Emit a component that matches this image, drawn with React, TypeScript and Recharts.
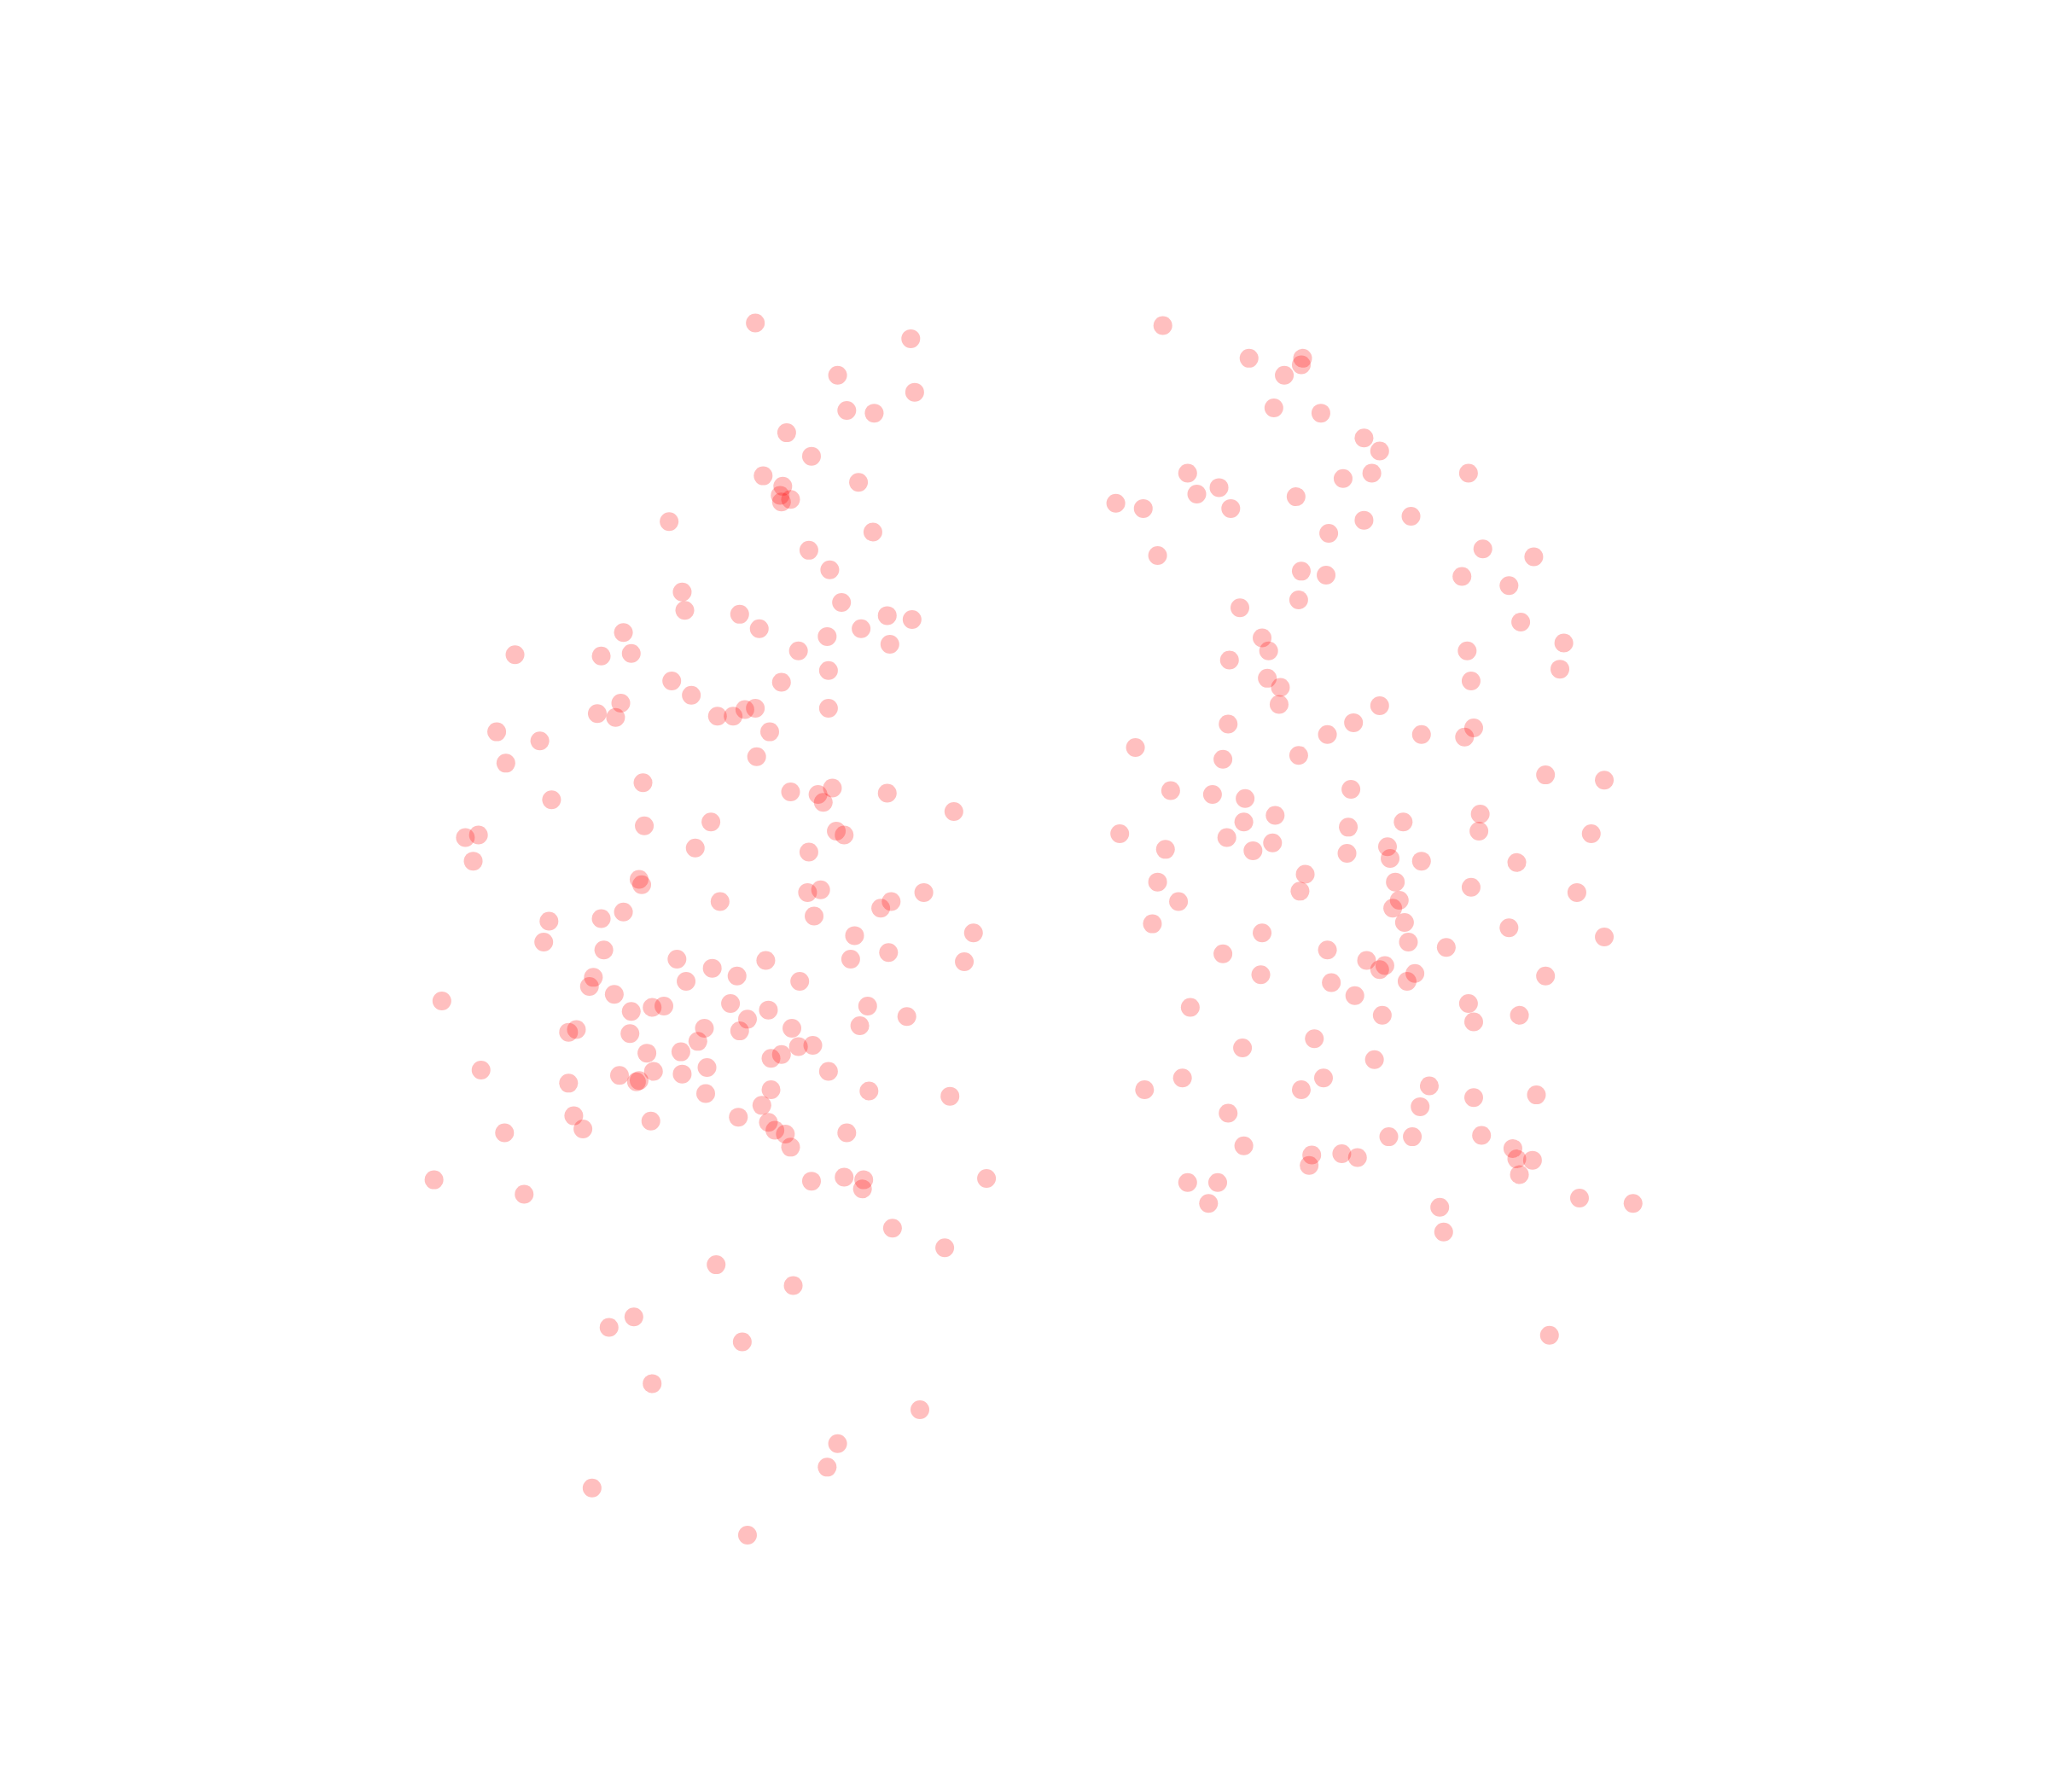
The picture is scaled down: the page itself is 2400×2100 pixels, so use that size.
import React from 'react';
import { ScatterChart, Scatter, XAxis, YAxis } from 'recharts';

// Group A (left cluster): [x, y] in plot units
const groupA: [number, number][] = [
  [577, 246], [696, 258], [640, 286], [699, 299], [647, 313], [668, 315], [601, 330], [620, 348],
  [583, 363], [656, 368], [598, 371], [596, 378], [597, 383], [604, 381], [511, 398], [667, 406],
  [618, 420], [634, 435], [521, 452], [643, 460], [523, 466], [565, 469], [678, 470], [697, 473],
  [580, 480], [658, 480], [476, 483], [632, 486], [680, 492], [393, 500], [459, 501], [482, 499],
  [610, 497], [633, 512], [513, 520], [597, 521], [528, 531], [474, 537], [456, 545], [470, 548],
  [548, 547], [560, 547], [569, 542], [577, 541], [633, 541], [379, 559], [588, 559], [412, 566],
  [386, 583], [578, 578], [491, 598], [604, 605], [625, 607], [636, 602], [629, 613], [678, 606],
  [421, 611], [729, 620], [543, 628], [492, 631], [355, 640], [365, 638], [639, 635], [645, 638],
  [531, 648], [618, 651], [361, 658], [488, 672], [490, 676], [617, 682], [627, 680], [706, 682],
  [550, 689], [681, 689], [673, 694], [476, 697], [459, 702], [419, 704], [622, 700], [653, 715],
  [744, 713], [415, 720], [461, 726], [679, 728], [517, 733], [585, 734], [650, 733], [737, 735],
  [544, 740], [453, 747], [450, 754], [524, 750], [563, 746], [611, 750], [469, 760], [337, 765],
  [558, 767], [482, 773], [498, 770], [507, 769], [587, 772], [663, 769], [693, 777], [571, 779],
  [434, 789], [440, 787], [481, 790], [538, 786], [565, 788], [605, 786], [657, 784], [533, 796],
  [610, 800], [621, 799], [494, 805], [520, 804], [589, 809], [597, 806], [367, 818], [473, 822],
  [499, 819], [521, 821], [540, 816], [633, 819], [486, 827], [488, 826], [434, 828], [539, 836],
  [589, 833], [664, 834], [726, 838], [582, 845], [438, 853], [564, 854], [497, 857], [445, 863],
  [587, 858], [592, 864], [600, 867], [385, 866], [647, 866], [604, 877], [331, 902], [620, 903],
  [645, 900], [660, 902], [659, 909], [754, 901], [400, 913], [682, 939], [722, 954], [547, 967],
  [606, 983], [484, 1007], [465, 1015], [567, 1026], [498, 1058], [703, 1078], [640, 1104], [632, 1122],
  [452, 1138], [571, 1174],
];

// Group B (right cluster)
const groupB: [number, number][] = [
  [889, 248], [955, 273], [996, 273], [995, 278], [982, 286], [974, 311], [1010, 315], [1043, 334],
  [1055, 344], [1049, 361], [1027, 365], [1123, 361], [908, 361], [932, 372], [915, 377], [991, 379],
  [853, 384], [874, 388], [941, 388], [1043, 397], [1079, 394], [1016, 407], [1134, 419], [1173, 425],
  [885, 424], [995, 436], [1014, 439], [1118, 440], [1154, 447], [993, 458], [948, 464], [1163, 475],
  [965, 487], [970, 497], [1122, 497], [1196, 491], [940, 504], [1193, 511], [969, 518], [979, 525],
  [1125, 520], [978, 538], [1055, 539], [1035, 552], [939, 553], [1127, 556], [1015, 561], [1087, 561],
  [1120, 563], [868, 571], [993, 577], [935, 580], [1182, 592], [1227, 596], [895, 604], [927, 607],
  [952, 610], [1033, 603], [975, 623], [951, 628], [1132, 622], [1073, 628], [1031, 632], [1131, 635],
  [1217, 637], [856, 637], [938, 640], [973, 644], [958, 650], [891, 649], [1061, 647], [1030, 652],
  [1063, 656], [1087, 658], [1160, 659], [998, 668], [1067, 674], [885, 674], [1125, 678], [994, 681],
  [1206, 682], [901, 689], [1070, 688], [1065, 694], [881, 706], [1074, 705], [1154, 709], [965, 713],
  [1227, 716], [1077, 720], [1106, 724], [1015, 726], [935, 729], [1045, 734], [1059, 738], [1055, 741],
  [964, 745], [1082, 744], [1182, 746], [1076, 750], [1018, 751], [1036, 761], [1123, 767], [910, 770],
  [1057, 776], [1162, 776], [1127, 781], [1005, 794], [950, 801], [1051, 810], [904, 824], [1012, 824],
  [1093, 830], [875, 833], [995, 833], [1175, 837], [1127, 839], [1086, 846], [939, 851], [1133, 868],
  [1062, 869], [1080, 869], [951, 876], [1157, 878], [1003, 883], [1026, 882], [1038, 885], [1160, 886],
  [1172, 887], [1001, 891], [1162, 898], [908, 904], [931, 904], [924, 920], [1208, 916], [1249, 920],
  [1101, 923], [1104, 942], [1185, 1021],
];

const X_DOMAIN: [number, number] = [0, 1568];
const Y_DOMAIN: [number, number] = [0, 1372];

const toRows = (pts: [number, number][]) => pts.map(([x, y]) => ({ x, y }));

const Dot = (props: any) => (
  <circle cx={props.cx} cy={props.cy} r={11} fill="#ff0000" fillOpacity={0.25} />
);

export default function App() {
  return (
    <div style={{ position: 'absolute', left: 1.5, top: 1.5, width: 2400, height: 2100, background: '#fff' }}>
      <ScatterChart width={2400} height={2100} margin={{ top: 0, right: 0, bottom: 0, left: 0 }}>
        <XAxis type="number" dataKey="x" domain={X_DOMAIN} hide allowDataOverflow />
        <YAxis type="number" dataKey="y" domain={Y_DOMAIN} hide reversed allowDataOverflow />
        <Scatter data={toRows(groupA)} shape={Dot} isAnimationActive={false} />
        <Scatter data={toRows(groupB)} shape={Dot} isAnimationActive={false} />
      </ScatterChart>
    </div>
  );
}
